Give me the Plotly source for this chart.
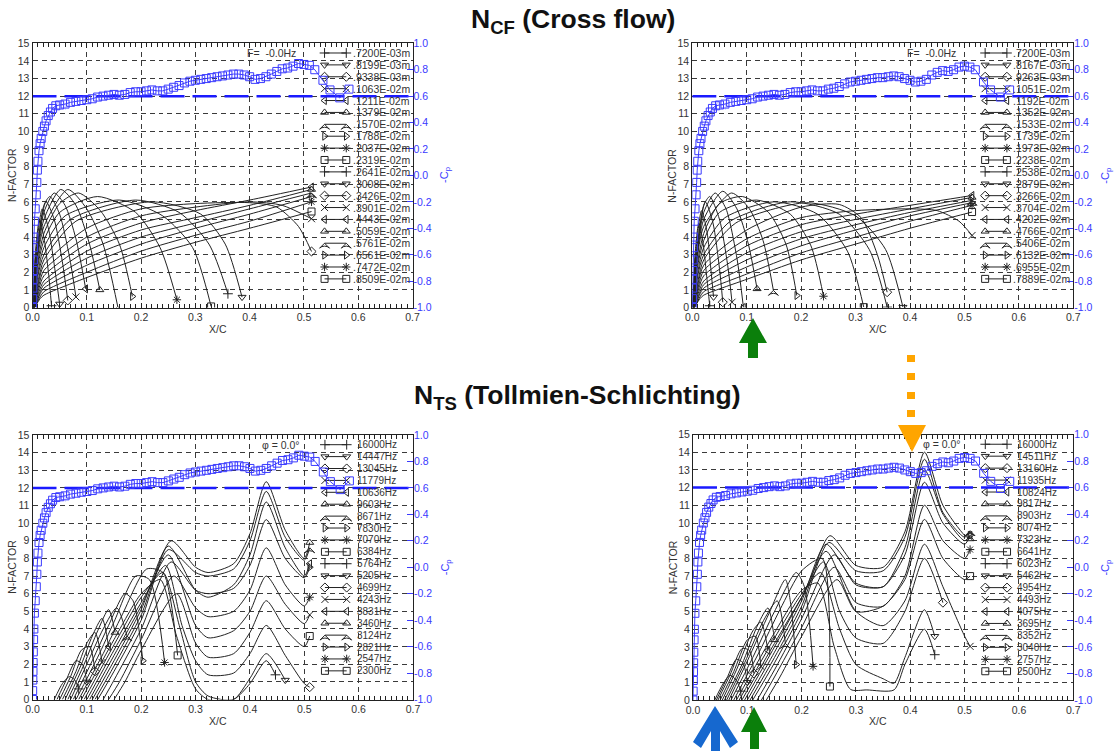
import plotly.graph_objects as go

PAGE_OFFSET = 0            # page margin is removed by a post script (see write_html)
W, H = 1114 - PAGE_OFFSET, 751 - PAGE_OFFSET
FONT = 'Liberation Sans, Arial, Helvetica, sans-serif'

# ---------------- tick labels ----------------
CP_TICKS = [-1.0, -0.8, -0.6, -0.4, -0.2, 0.0, 0.2, 0.4, 0.6, 0.8, 1.0]
CP_TICK_TEXT = ['-1.0', '-0.8', '-0.6', '-0.4', '-0.2', '0.0', '0.2', '0.4', '0.6', '0.8', '1.0']

MARKERS = ['cross-thin-open', 'triangle-down-open', 'diamond-open', 'x-thin-open', 'triangle-left-open',
           'triangle-up-open', 'arrow-wide-open', 'triangle-right-open', 'asterisk-open', 'square-open'] * 2

# ---------------- legend labels ----------------
CF_L_LABELS = ['.7200E-03m', '.8199E-03m', '.9338E-03m', '.1063E-02m', '.1211E-02m', '.1379E-02m',
               '.1570E-02m', '.1788E-02m', '.2037E-02m', '.2319E-02m', '.2641E-02m', '.3008E-02m',
               '.3426E-02m', '.3901E-02m', '.4443E-02m', '.5059E-02m', '.5761E-02m', '.6561E-02m',
               '.7472E-02m', '.8509E-02m']
CF_R_LABELS = ['.7200E-03m', '.8167E-03m', '.9263E-03m', '.1051E-02m', '.1192E-02m', '.1352E-02m',
               '.1533E-02m', '.1739E-02m', '.1973E-02m', '.2238E-02m', '.2538E-02m', '.2879E-02m',
               '.3266E-02m', '.3704E-02m', '.4202E-02m', '.4766E-02m', '.5406E-02m', '.6132E-02m',
               '.6955E-02m', '.7889E-02m']
TS_L_LABELS = ['16000Hz', '14447Hz', '13045Hz', '11779Hz', '10636Hz', '9603Hz', '8671Hz', '7830Hz',
               '7070Hz', '6384Hz', '5764Hz', '5205Hz', '4699Hz', '4243Hz', '3831Hz', '3460Hz',
               '3124Hz', '2821Hz', '2547Hz', '2300Hz']
TS_R_LABELS = ['16000Hz', '14511Hz', '13160Hz', '11935Hz', '10824Hz', '9817Hz', '8903Hz', '8074Hz',
               '7323Hz', '6641Hz', '6023Hz', '5462Hz', '4954Hz', '4493Hz', '4075Hz', '3695Hz',
               '3352Hz', '3040Hz', '2757Hz', '2500Hz']

# ---------------- -Cp distribution ----------------
CP_X = [0.0, 0.0003, 0.0006, 0.0009, 0.0012, 0.0015, 0.002, 0.0025, 0.0035, 0.005, 0.007, 0.008,
        0.009, 0.010, 0.012, 0.014, 0.016, 0.019, 0.022, 0.025, 0.029, 0.033, 0.037, 0.043,
        0.05, 0.06, 0.07, 0.08, 0.09, 0.10, 0.11, 0.12, 0.13, 0.14, 0.15, 0.16, 0.17, 0.18, 0.19,
        0.20, 0.21, 0.22, 0.23, 0.24, 0.25, 0.26, 0.27, 0.28, 0.29, 0.30, 0.31, 0.32, 0.33, 0.34,
        0.35, 0.36, 0.37, 0.38, 0.39, 0.40, 0.41, 0.42, 0.43, 0.44, 0.45, 0.46, 0.47, 0.48, 0.49,
        0.50, 0.51, 0.52, 0.535, 0.548, 0.566, 0.583]
CP_LEFT = [-1.0, -0.933, -0.853, -0.787, -0.72, -0.64, -0.547, -0.467, -0.347, -0.253, -0.147, -0.053,
           0.04, 0.107, 0.187, 0.24, 0.28, 0.333, 0.373, 0.413, 0.453, 0.48, 0.507, 0.527,
           0.533, 0.54, 0.553, 0.56, 0.567, 0.573, 0.58, 0.593, 0.6, 0.607, 0.613, 0.607, 0.613, 0.627, 0.633,
           0.633, 0.64, 0.647, 0.64, 0.64, 0.653, 0.667, 0.68, 0.70, 0.713, 0.72, 0.727, 0.733, 0.74, 0.747,
           0.753, 0.76, 0.767, 0.767, 0.76, 0.747, 0.727, 0.733, 0.747, 0.767, 0.787, 0.807, 0.813, 0.827, 0.847,
           0.84, 0.833, 0.80, 0.72, 0.647, 0.587, 0.653]
CP_RIGHT = [-1.0, -0.933, -0.853, -0.787, -0.72, -0.64, -0.547, -0.467, -0.347, -0.253, -0.147, -0.053,
            0.04, 0.107, 0.187, 0.24, 0.28, 0.333, 0.373, 0.413, 0.453, 0.48, 0.507, 0.527,
            0.533, 0.54, 0.553, 0.56, 0.567, 0.573, 0.58, 0.593, 0.6, 0.607, 0.613, 0.607, 0.613, 0.627, 0.633,
            0.633, 0.64, 0.647, 0.64, 0.64, 0.653, 0.66, 0.673, 0.693, 0.707, 0.713, 0.72, 0.727, 0.733, 0.74,
            0.74, 0.747, 0.753, 0.747, 0.733, 0.72, 0.707, 0.713, 0.727, 0.76, 0.78, 0.793, 0.787, 0.80, 0.82,
            0.827, 0.82, 0.80, 0.707, 0.647, 0.593, 0.647]
CP_REF = 0.6
X_RANGE = [0.0, 0.7]

# ---------------- cross-flow N-factor curves (left case) ----------------
CF_L_X = [
    [0.001, 0.005, 0.013, 0.022, 0.030, 0.035],
    [0.001, 0.006, 0.018, 0.030, 0.042, 0.050],
    [0.001, 0.007, 0.025, 0.040, 0.055, 0.065],
    [0.0015, 0.008, 0.021, 0.032, 0.050, 0.068, 0.080],
    [0.0015, 0.008, 0.021, 0.040, 0.060, 0.080, 0.098],
    [0.002, 0.008, 0.021, 0.052, 0.080, 0.105, 0.124],
    [0.002, 0.008, 0.021, 0.065, 0.100, 0.130, 0.157],
    [0.002, 0.009, 0.021, 0.050, 0.085, 0.125, 0.160, 0.184],
    [0.002, 0.009, 0.021, 0.050, 0.120, 0.190, 0.235, 0.266],
    [0.0025, 0.010, 0.021, 0.060, 0.160, 0.240, 0.295, 0.329],
    [0.0025, 0.010, 0.021, 0.070, 0.190, 0.270, 0.325, 0.360],
    [0.003, 0.011, 0.021, 0.080, 0.220, 0.310, 0.355, 0.386],
    [0.003, 0.011, 0.021, 0.100, 0.200, 0.300, 0.400, 0.450, 0.490, 0.514],
    [0.003, 0.012, 0.021, 0.100, 0.200, 0.300, 0.400, 0.460, 0.514],
    [0.003, 0.012, 0.021, 0.100, 0.200, 0.300, 0.400, 0.514],
    [0.0035, 0.012, 0.021, 0.100, 0.200, 0.300, 0.400, 0.514],
    [0.0035, 0.013, 0.021, 0.100, 0.200, 0.300, 0.400, 0.514],
    [0.004, 0.013, 0.021, 0.100, 0.200, 0.300, 0.400, 0.514],
    [0.004, 0.014, 0.021, 0.100, 0.200, 0.300, 0.400, 0.514],
    [0.004, 0.014, 0.021, 0.100, 0.200, 0.300, 0.400, 0.514],
]
CF_L_N = [
    [0, 3.0, 5.0, 3.8, 1.8, 0.1],
    [0, 3.0, 5.6, 4.4, 2.0, 0.2],
    [0, 3.0, 6.0, 5.0, 2.6, 0.4],
    [0, 3.0, 5.8, 6.3, 5.3, 2.9, 0.6],
    [0, 2.9, 5.4, 6.5, 5.8, 3.9, 1.06],
    [0, 2.7, 5.0, 6.7, 5.8, 3.6, 1.0],
    [0, 2.5, 4.6, 6.7, 5.6, 3.6, 0.06],
    [0, 2.4, 4.2, 5.9, 6.5, 5.5, 3.6, 0.63],
    [0, 2.2, 3.8, 5.4, 6.3, 5.4, 3.4, 0.44],
    [0, 2.0, 3.4, 5.2, 6.1, 5.2, 3.4, 0.06],
    [0, 1.8, 3.0, 5.0, 6.1, 5.4, 3.6, 0.78],
    [0, 1.6, 2.7, 4.9, 6.0, 5.3, 3.6, 0.59],
    [0, 1.4, 2.4, 4.5, 5.6, 5.9, 5.95, 5.7, 4.6, 3.18],
    [0, 1.3, 2.1, 4.0, 5.2, 5.7, 6.0, 5.8, 5.04],
    [0, 1.1, 1.8, 3.6, 4.8, 5.5, 6.1, 6.84],
    [0, 0.9, 1.5, 3.2, 4.4, 5.1, 5.8, 6.7],
    [0, 0.8, 1.3, 2.8, 4.0, 4.8, 5.6, 6.5],
    [0, 0.7, 1.1, 2.4, 3.6, 4.5, 5.3, 6.3],
    [0, 0.6, 0.9, 2.0, 3.2, 4.1, 4.9, 6.0],
    [0, 0.5, 0.7, 1.7, 2.8, 3.7, 4.5, 5.45],
]

# ---------------- cross-flow N-factor curves (right case) ----------------
CF_R_X = [
    [0.001, 0.005, 0.012, 0.020, 0.027, 0.032],
    [0.001, 0.006, 0.017, 0.027, 0.034, 0.039],
    [0.001, 0.007, 0.024, 0.038, 0.050, 0.056],
    [0.0015, 0.008, 0.021, 0.032, 0.050, 0.065, 0.073],
    [0.0015, 0.008, 0.021, 0.042, 0.062, 0.082, 0.094],
    [0.002, 0.008, 0.021, 0.056, 0.082, 0.103, 0.119],
    [0.002, 0.008, 0.021, 0.072, 0.105, 0.130, 0.149],
    [0.002, 0.009, 0.021, 0.050, 0.092, 0.140, 0.172, 0.192],
    [0.002, 0.009, 0.021, 0.050, 0.118, 0.180, 0.218, 0.241],
    [0.0025, 0.010, 0.021, 0.060, 0.150, 0.230, 0.285, 0.315],
    [0.0025, 0.010, 0.021, 0.070, 0.180, 0.270, 0.325, 0.358],
    [0.003, 0.011, 0.021, 0.080, 0.210, 0.300, 0.355, 0.387],
    [0.003, 0.011, 0.021, 0.100, 0.200, 0.270, 0.310, 0.340, 0.358],
    [0.003, 0.012, 0.021, 0.100, 0.200, 0.300, 0.400, 0.450, 0.490, 0.514],
    [0.003, 0.012, 0.021, 0.100, 0.200, 0.300, 0.400, 0.514],
    [0.0035, 0.012, 0.021, 0.100, 0.200, 0.300, 0.400, 0.514],
    [0.0035, 0.013, 0.021, 0.100, 0.200, 0.300, 0.400, 0.514],
    [0.004, 0.013, 0.021, 0.100, 0.200, 0.300, 0.400, 0.514],
    [0.004, 0.014, 0.021, 0.100, 0.200, 0.300, 0.400, 0.514],
    [0.004, 0.014, 0.021, 0.100, 0.200, 0.300, 0.400, 0.514],
]
CF_R_N = [
    [0, 3.0, 4.8, 3.6, 1.6, 0.1],
    [0, 3.0, 5.5, 4.3, 2.2, 0.6],
    [0, 3.0, 6.0, 4.8, 2.2, 0.3],
    [0, 3.0, 5.8, 6.3, 5.0, 2.4, 0.3],
    [0, 2.9, 5.4, 6.5, 5.6, 2.8, 0.0],
    [0, 2.7, 5.0, 6.6, 5.6, 3.6, 1.06],
    [0, 2.5, 4.6, 6.5, 5.6, 3.8, 0.97],
    [0, 2.4, 4.2, 5.9, 6.3, 5.4, 3.6, 0.68],
    [0, 2.2, 3.8, 5.4, 6.1, 5.3, 3.5, 0.64],
    [0, 2.0, 3.4, 5.1, 6.0, 5.3, 3.2, 0.02],
    [0, 1.8, 3.0, 4.9, 6.0, 5.3, 3.3, 0.02],
    [0, 1.6, 2.7, 4.8, 5.95, 5.2, 3.3, 0.02],
    [0, 1.4, 2.4, 4.4, 5.7, 5.85, 5.1, 3.0, 0.87],
    [0, 1.3, 2.1, 3.9, 5.1, 5.5, 5.6, 5.5, 4.9, 4.09],
    [0, 1.1, 1.8, 3.5, 4.7, 5.3, 5.8, 6.36],
    [0, 0.9, 1.5, 3.1, 4.3, 5.0, 5.6, 6.25],
    [0, 0.8, 1.3, 2.7, 3.9, 4.7, 5.4, 6.08],
    [0, 0.7, 1.1, 2.3, 3.5, 4.4, 5.2, 5.95],
    [0, 0.6, 0.9, 1.9, 3.1, 4.0, 4.9, 5.8],
    [0, 0.5, 0.7, 1.6, 2.7, 3.6, 4.5, 5.42],
]

# ---------------- TS N-factor curves (left case) ----------------
TS_L_X = [
    [0.040, 0.055, 0.068, 0.078, 0.085],
    [0.045, 0.062, 0.080, 0.092, 0.100],
    [0.050, 0.070, 0.090, 0.105, 0.115],
    [0.055, 0.080, 0.100, 0.115, 0.128],
    [0.060, 0.090, 0.110, 0.128, 0.140],
    [0.065, 0.095, 0.120, 0.140, 0.152],
    [0.070, 0.100, 0.130, 0.155, 0.174],
    [0.075, 0.110, 0.140, 0.170, 0.185, 0.203],
    [0.080, 0.120, 0.150, 0.190, 0.215, 0.243],
    [0.085, 0.130, 0.165, 0.210, 0.240, 0.267],
    [0.090, 0.150, 0.200, 0.235, 0.265, 0.300, 0.323, 0.370, 0.400, 0.430, 0.447],
    [0.095, 0.150, 0.200, 0.240, 0.270, 0.300, 0.323, 0.370, 0.400, 0.430, 0.465],
    [0.100, 0.150, 0.200, 0.245, 0.275, 0.300, 0.323, 0.370, 0.400, 0.430, 0.465, 0.500, 0.510],
    [0.105, 0.150, 0.200, 0.250, 0.300, 0.323, 0.370, 0.400, 0.430, 0.465, 0.500, 0.510],
    [0.110, 0.150, 0.200, 0.250, 0.300, 0.323, 0.370, 0.400, 0.430, 0.465, 0.500, 0.510],
    [0.115, 0.150, 0.200, 0.255, 0.300, 0.323, 0.370, 0.400, 0.430, 0.465, 0.500, 0.510],
    [0.120, 0.150, 0.200, 0.250, 0.300, 0.323, 0.370, 0.400, 0.430, 0.465, 0.500, 0.510],
    [0.130, 0.150, 0.200, 0.255, 0.300, 0.323, 0.370, 0.400, 0.430, 0.465, 0.500, 0.510],
    [0.140, 0.160, 0.200, 0.260, 0.300, 0.323, 0.370, 0.400, 0.430, 0.465, 0.500, 0.510],
    [0.150, 0.170, 0.200, 0.265, 0.300, 0.323, 0.370, 0.400, 0.430, 0.465, 0.500, 0.510],
]
TS_L_N = [
    [0, 0.9, 1.3, 1.1, 0.6],
    [0, 1.1, 2.2, 2.0, 1.0],
    [0, 1.3, 2.8, 3.0, 1.6],
    [0, 1.6, 3.2, 3.8, 2.1],
    [0, 2.0, 3.6, 4.6, 3.0],
    [0, 2.0, 3.9, 5.1, 3.8],
    [0, 2.0, 4.0, 5.2, 3.6],
    [0, 2.2, 4.2, 6.0, 5.6, 2.2],
    [0, 2.4, 4.4, 7.0, 6.8, 2.1],
    [0, 2.6, 4.8, 7.4, 7.2, 2.5],
    [0, 3.4, 6.0, 6.8, 3.6, 0.6, 0.0, 0.0, 0.9, 2.2, 1.4],
    [0, 3.1, 5.8, 7.2, 4.2, 1.0, 0.2, 0.0, 1.2, 2.6, 1.1],
    [0, 2.8, 5.5, 7.6, 4.2, 2.2, 1.4, 1.5, 2.6, 4.2, 2.5, 0.9, 0.7],
    [0, 2.5, 5.3, 8.2, 4.2, 3.5, 3.9, 5.0, 7.0, 5.4, 4.3, 4.8],
    [0, 2.2, 5.1, 8.7, 6.2, 5.8, 6.5, 8.2, 11.2, 8.6, 7.0, 7.7],
    [0, 1.9, 4.8, 9.0, 7.5, 7.2, 7.7, 9.4, 12.35, 9.6, 8.0, 8.9],
    [0, 1.6, 4.5, 8.5, 7.2, 7.0, 7.4, 9.0, 11.8, 9.2, 7.9, 8.6],
    [0, 1.1, 4.0, 7.8, 6.2, 6.0, 6.3, 7.6, 10.2, 8.0, 6.9, 7.5],
    [0, 1.0, 3.4, 7.0, 5.2, 4.7, 5.0, 6.2, 8.6, 6.5, 5.3, 5.8],
    [0, 1.0, 2.8, 6.0, 3.2, 2.4, 2.6, 3.8, 5.6, 4.0, 3.0, 3.6],
]

# ---------------- TS N-factor curves (right case) ----------------
TS_R_X = [
    [0.040, 0.055, 0.068, 0.080, 0.088],
    [0.043, 0.062, 0.080, 0.092, 0.100],
    [0.046, 0.068, 0.090, 0.104, 0.112],
    [0.050, 0.075, 0.100, 0.115, 0.125],
    [0.054, 0.080, 0.110, 0.125, 0.138],
    [0.058, 0.090, 0.120, 0.138, 0.150],
    [0.062, 0.095, 0.130, 0.155, 0.170],
    [0.066, 0.100, 0.140, 0.170, 0.180, 0.190],
    [0.070, 0.110, 0.150, 0.190, 0.205, 0.221],
    [0.075, 0.120, 0.160, 0.200, 0.238, 0.252],
    [0.080, 0.150, 0.200, 0.230, 0.260, 0.290, 0.320, 0.370, 0.390, 0.426, 0.445],
    [0.085, 0.150, 0.200, 0.235, 0.270, 0.300, 0.350, 0.370, 0.390, 0.426, 0.445],
    [0.090, 0.150, 0.200, 0.240, 0.270, 0.300, 0.350, 0.390, 0.426, 0.460],
    [0.095, 0.150, 0.200, 0.245, 0.300, 0.350, 0.390, 0.426, 0.460, 0.500, 0.510],
    [0.100, 0.150, 0.200, 0.245, 0.300, 0.350, 0.390, 0.426, 0.460, 0.500, 0.510],
    [0.105, 0.150, 0.200, 0.252, 0.300, 0.350, 0.390, 0.426, 0.460, 0.500, 0.510],
    [0.110, 0.150, 0.200, 0.250, 0.300, 0.350, 0.390, 0.426, 0.460, 0.500, 0.510],
    [0.118, 0.150, 0.200, 0.260, 0.300, 0.350, 0.390, 0.426, 0.460, 0.500, 0.510],
    [0.126, 0.150, 0.200, 0.260, 0.300, 0.350, 0.390, 0.426, 0.460, 0.500, 0.510],
    [0.135, 0.160, 0.200, 0.265, 0.300, 0.350, 0.390, 0.426, 0.460, 0.500, 0.510],
]
TS_R_N = [
    [0, 0.9, 1.4, 1.1, 0.5],
    [0, 1.2, 2.3, 2.1, 1.0],
    [0, 1.4, 2.9, 2.8, 1.5],
    [0, 1.6, 3.4, 3.6, 1.9],
    [0, 1.7, 3.9, 4.4, 2.8],
    [0, 2.0, 4.3, 5.2, 3.4],
    [0, 2.1, 4.5, 5.6, 3.2],
    [0, 2.2, 4.9, 6.8, 5.4, 2.0],
    [0, 2.4, 5.0, 7.2, 6.4, 1.9],
    [0, 2.6, 5.1, 7.3, 8.0, 0.76],
    [0, 3.8, 6.2, 6.6, 3.0, 0.6, 0.57, 0.57, 2.0, 4.0, 2.56],
    [0, 3.5, 6.0, 7.2, 4.0, 2.0, 1.2, 0.95, 2.4, 5.1, 3.6],
    [0, 3.2, 5.8, 7.8, 5.0, 3.5, 3.2, 5.0, 8.0, 5.5],
    [0, 3.0, 5.8, 8.4, 5.0, 4.2, 5.6, 8.8, 6.4, 3.6, 3.03],
    [0, 2.7, 5.6, 8.8, 6.6, 6.4, 8.6, 13.0, 10.5, 9.0, 9.3],
    [0, 2.4, 5.3, 9.28, 7.6, 7.5, 9.5, 14.0, 11.0, 9.3, 9.1],
    [0, 2.1, 5.0, 8.9, 7.3, 7.3, 9.2, 13.6, 10.6, 9.2, 9.56],
    [0, 1.7, 4.6, 8.2, 6.5, 6.4, 8.2, 12.3, 10.0, 8.8, 9.3],
    [0, 1.3, 4.1, 7.5, 5.5, 5.3, 7.0, 11.0, 9.0, 8.0, 8.5],
    [0, 1.3, 3.6, 6.8, 5.0, 5.3, 6.8, 10.2, 8.0, 6.8, 7.0],
]

# ---------------- panel layout (pixel boxes of the plot frames, page coordinates) ----------------
PANELS = [
    dict(box=(32.5, 43.3, 412.5, 307.5), xs=CF_L_X, ns=CF_L_N, labels=CF_L_LABELS, cp=CP_LEFT,
         note='F=  -0.0Hz', note_x=0.44, leg_text_x=0.586, leg_size=10.5),
    dict(box=(692.3, 43.3, 1073.3, 307.5), xs=CF_R_X, ns=CF_R_N, labels=CF_R_LABELS, cp=CP_RIGHT,
         note='F=  -0.0Hz', note_x=0.44, leg_text_x=0.586, leg_size=10.5),
    dict(box=(32.5, 435.0, 413.0, 699.5), xs=TS_L_X, ns=TS_L_N, labels=TS_L_LABELS, cp=CP_LEFT,
         note='φ = 0.0°', note_x=0.458, leg_text_x=0.593, leg_size=10),
    dict(box=(693.0, 434.5, 1073.3, 700.0), xs=TS_R_X, ns=TS_R_N, labels=TS_R_LABELS, cp=CP_RIGHT,
         note='φ = 0.0°', note_x=0.458, leg_text_x=0.593, leg_size=10),
]
LEG_TOP, LEG_STEP = 14.45, 0.675
LEG_X = [0.538, 0.578]

BLACK = '#222222'
BLUE = '#3a3aff'
GRID = '#3a3a3a'


def fx(px):
    return (px - PAGE_OFFSET) / W


def fy(py):
    return 1 - (py - PAGE_OFFSET) / H


def paper_text(px, py, text, size, color, angle=0):
    return dict(x=fx(px), y=fy(py), xref='paper', yref='paper', text=text, textangle=angle,
                showarrow=False, xanchor='center', yanchor='middle',
                font=dict(size=size, color=color, family=FONT))


fig = go.Figure()
layout = dict(width=W, height=H, margin=dict(l=0, r=0, t=0, b=0, pad=0), showlegend=False,
              paper_bgcolor='white', plot_bgcolor='white', font=dict(family=FONT, color='#333'))
annotations = []
shapes = []

for k, p in enumerate(PANELS):
    xa = 'x' if k == 0 else f'x{k + 1}'
    ya = 'y' if k == 0 else f'y{2 * k + 1}'
    ya2 = f'y{2 * k + 2}'
    xname = 'xaxis' if k == 0 else f'xaxis{k + 1}'
    yname = 'yaxis' if k == 0 else f'yaxis{2 * k + 1}'
    y2name = f'yaxis{2 * k + 2}'
    x0, y0, x1, y1 = p['box']

    layout[xname] = dict(domain=[fx(x0), fx(x1)], anchor=ya, range=X_RANGE, dtick=0.1, tick0=0,
                         automargin=False,
                         tickformat='.1f', ticks='inside', ticklen=5, tickcolor=BLACK,
                         minor=dict(ticks='inside', ticklen=4, dtick=0.01, tick0=0, tickcolor=BLACK,
                                    showgrid=False),
                         showline=True, linecolor=BLACK, linewidth=1, mirror='ticks',
                         showgrid=True, gridcolor=GRID, griddash='5px,4px', gridwidth=1,
                         zeroline=False, tickfont=dict(size=10.5, color='#333', family=FONT))
    layout[yname] = dict(domain=[fy(y1), fy(y0)], anchor=xa, range=[0, 15], dtick=1, tick0=0,
                         automargin=False,
                         ticks='', showline=True, linecolor=BLACK, linewidth=1, mirror=True,
                         showgrid=True, gridcolor=GRID, griddash='5px,4px', gridwidth=1,
                         zeroline=False, tickfont=dict(size=10.5, color='#333', family=FONT))
    layout[y2name] = dict(overlaying=ya, anchor=xa, side='right', range=[-1, 1], automargin=False,
                          tickmode='array', tickvals=CP_TICKS, ticktext=CP_TICK_TEXT,
                          ticks='inside', ticklen=6, tickcolor=BLUE, showline=False,
                          showgrid=False, zeroline=False,
                          tickfont=dict(size=10.5, color=BLUE, family=FONT))

    # black N-factor curves
    for i in range(len(p['xs'])):
        fig.add_trace(go.Scatter(x=p['xs'][i], y=p['ns'][i], xaxis=xa, yaxis=ya, mode='lines',
                                 line=dict(color=BLACK, width=1, shape='spline', smoothing=0.7),
                                 hoverinfo='skip'))
    # end markers of curves
    fig.add_trace(go.Scatter(x=[c[-1] for c in p['xs']], y=[c[-1] for c in p['ns']], xaxis=xa, yaxis=ya,
                             mode='markers',
                             marker=dict(symbol=MARKERS, size=7, color=BLACK, line=dict(color=BLACK, width=1)),
                             hoverinfo='skip'))
    # legend samples
    lx, ly, ls = [], [], []
    for i in range(len(p['labels'])):
        yk = LEG_TOP - LEG_STEP * i
        lx += [LEG_X[0], LEG_X[1], None]
        ly += [yk, yk, None]
        ls += [MARKERS[i]] * 3
        annotations.append(dict(x=p['leg_text_x'], y=yk, xref=xa, yref=ya, text=p['labels'][i],
                                showarrow=False, xanchor='left', yanchor='middle',
                                font=dict(size=p['leg_size'], color='#333', family=FONT)))
    fig.add_trace(go.Scatter(x=lx, y=ly, xaxis=xa, yaxis=ya, mode='lines+markers',
                             line=dict(color=BLACK, width=1),
                             marker=dict(symbol=ls, size=7, color=BLACK, line=dict(color=BLACK, width=1)),
                             hoverinfo='skip'))
    # -Cp reference level and -Cp distribution
    fig.add_trace(go.Scatter(x=X_RANGE, y=[CP_REF, CP_REF], xaxis=xa, yaxis=ya2, mode='lines',
                             line=dict(color='#1a1aff', width=2.5, dash='24px,8px'), hoverinfo='skip'))
    fig.add_trace(go.Scatter(x=CP_X, y=p['cp'], xaxis=xa, yaxis=ya2, mode='lines+markers',
                             line=dict(color=BLUE, width=1),
                             marker=dict(symbol='square-open', size=8, color=BLUE, line=dict(width=1)),
                             hoverinfo='skip'))

    # texts
    annotations.append(dict(x=p['note_x'], y=14.45, xref=xa, yref=ya, text=p['note'], showarrow=False,
                            xanchor='center', yanchor='middle',
                            font=dict(size=10.5, color='#333', family=FONT)))
    annotations.append(dict(x=0.055, y=11.55, xref=xa, yref=ya, text='-C<sub>p</sub>', showarrow=False,
                            xanchor='center', yanchor='middle',
                            font=dict(size=9, color='rgba(90,90,255,0.45)', family=FONT)))
    annotations.append(paper_text(x0 - 20, (y0 + y1) / 2, 'N-FACTOR', 10.5, '#333', angle=-90))
    annotations.append(paper_text((x0 + x1) / 2 - 5, y1 + 21, 'X/C', 10.5, '#333'))
    annotations.append(paper_text(x1 + 33, (y0 + y1) / 2, '-C<sub>p</sub>', 11, BLUE, angle=-90))

# titles
annotations.append(paper_text(573, 21, '<b>N<sub>CF</sub> (Cross flow)</b>', 26.5, '#111'))
annotations.append(paper_text(577, 397, '<b>N<sub>TS</sub> (Tollmien-Schlichting)</b>', 26.5, '#111'))


def ppath(pts):
    return 'M ' + ' L '.join(f'{fx(a):.5f},{fy(b):.5f}' for a, b in pts) + ' Z'


GREEN = '#0b7f0b'
shapes.append(dict(type='path', xref='paper', yref='paper', fillcolor=GREEN, line=dict(width=0),
                   path=ppath([(753, 318), (767, 343), (758, 343), (758, 358), (748, 358), (748, 343), (739, 343)])))
shapes.append(dict(type='path', xref='paper', yref='paper', fillcolor=GREEN, line=dict(width=0),
                   path=ppath([(754, 707), (767, 732), (759, 732), (759, 749), (750, 749), (750, 732), (741, 732)])))
shapes.append(dict(type='path', xref='paper', yref='paper', fillcolor='#1668cf', line=dict(width=0),
                   path=ppath([(715, 706), (738, 742), (730, 748), (720, 731), (720, 751), (711, 751),
                               (711, 731), (701, 748), (693, 742)])))
ORANGE = '#ffa500'
for (a, b) in [(355, 362), (373, 380), (392, 399), (410, 417)]:
    shapes.append(dict(type='rect', xref='paper', yref='paper', x0=fx(907), x1=fx(915), y0=fy(b), y1=fy(a),
                       fillcolor=ORANGE, line=dict(width=0)))
shapes.append(dict(type='path', xref='paper', yref='paper', fillcolor=ORANGE, line=dict(width=0),
                   path=ppath([(898, 425), (926, 425), (912, 452)])))

layout['annotations'] = annotations
layout['shapes'] = shapes
fig.update_layout(**layout)
fig.write_html('out.html', config={'displayModeBar': False},
               post_script="document.body.style.margin='0';document.body.style.overflow='hidden';")
